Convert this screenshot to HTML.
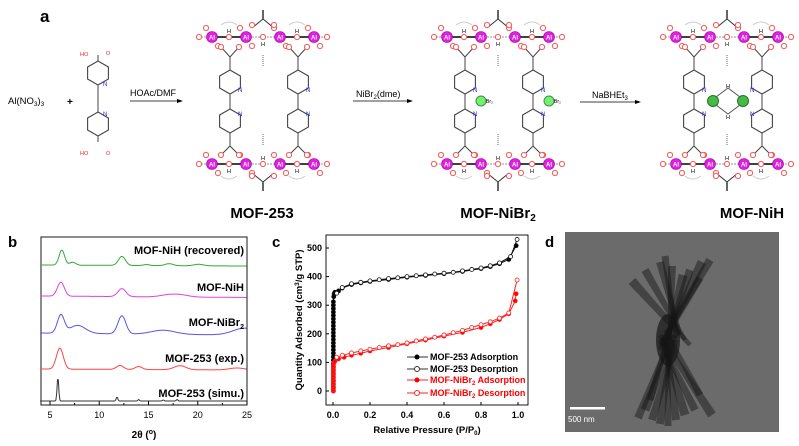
<!DOCTYPE html>
<html><head><meta charset="utf-8"><style>
body{margin:0;background:#fff;}
svg{display:block;font-family:"Liberation Sans",Arial,sans-serif;}
</style></head><body>
<svg id="s" width="799" height="446" viewBox="0 0 799 446" xmlns="http://www.w3.org/2000/svg">
<defs>
<g id="al"><circle r="5.5" fill="#e020e0" stroke="#a000a0" stroke-width="0.6"/><text x="0" y="2.3" font-size="6" fill="#fff" text-anchor="middle" font-weight="bold">Al</text></g>
<g id="o"><circle r="2.6" fill="#fff" stroke="#f55" stroke-width="1"/></g>
</defs>
<text x="40" y="22" font-size="17" font-weight="bold">a</text>
<text x="8" y="104" font-size="9.5">Al(NO<tspan font-size="6.5" dy="2">3</tspan><tspan dy="-2">)</tspan><tspan font-size="6.5" dy="2">3</tspan></text>
<text x="67" y="105" font-size="10" font-weight="bold">+</text>
<text x="130" y="96" font-size="9">HOAc/DMF</text>
<line x1="130" y1="101" x2="181" y2="101" stroke="#000" stroke-width="0.8"/><polygon points="183,101 177,99 177,103" fill="#000"/>
<text x="356" y="97" font-size="9">NiBr<tspan font-size="6" dy="2">2</tspan><tspan dy="-2">(dme)</tspan></text>
<line x1="353" y1="101" x2="410" y2="101" stroke="#000" stroke-width="0.8"/><polygon points="413,101 407,99 407,103" fill="#000"/>
<text x="592" y="98" font-size="9">NaBHEt<tspan font-size="6" dy="2">3</tspan></text>
<line x1="580" y1="102" x2="638" y2="102" stroke="#000" stroke-width="0.8"/><polygon points="641,102 635,100 635,104" fill="#000"/>
<text x="262" y="218" font-size="15" font-weight="bold" text-anchor="middle">MOF-253</text>
<text x="498" y="218" font-size="15" font-weight="bold" text-anchor="middle">MOF-NiBr<tspan font-size="10" dy="3">2</tspan></text>
<text x="752" y="218" font-size="15" font-weight="bold" text-anchor="middle">MOF-NiH</text>
<g id="lig"></g>
<g id="fw"></g>
<text x="8" y="247" font-size="15" font-weight="bold">b</text>
<rect x="41" y="237" width="206" height="168" fill="none" stroke="#000" stroke-width="0.9"/>
<g id="bt"></g>
<g font-size="11" font-weight="bold" text-anchor="end">
<text x="244" y="254">MOF-NiH (recovered)</text>
<text x="244" y="291">MOF-NiH</text>
<text x="244" y="326">MOF-NiBr<tspan font-size="7" dy="3">2</tspan></text>
<text x="244" y="362">MOF-253 (exp.)</text>
<text x="244" y="397">MOF-253 (simu.)</text>
</g>
<text x="144" y="438" font-size="10" font-weight="bold" text-anchor="middle">2θ (<tspan font-size="7" dy="-4">o</tspan><tspan dy="4">)</tspan></text>
<text x="272" y="247" font-size="15" font-weight="bold">c</text>
<rect x="326" y="235" width="202" height="170" fill="none" stroke="#000" stroke-width="0.9"/>
<g id="ct"></g>
<text transform="translate(302,320) rotate(-90)" font-size="9.5" font-weight="bold" text-anchor="middle">Quantity Adsorbed (cm<tspan font-size="6.5" dy="-3">3</tspan><tspan dy="3">/g STP)</tspan></text>
<text x="427" y="433" font-size="9.5" font-weight="bold" text-anchor="middle">Relative Pressure (P/P<tspan font-size="6" dy="2">0</tspan><tspan dy="-2">)</tspan></text>
<g id="cs"></g>
<g font-size="9" font-weight="bold">
<line x1="407" y1="357" x2="428" y2="357" stroke="#333"/><circle cx="417" cy="357" r="2.5" fill="#000"/><text x="430" y="360">MOF-253 Adsorption</text>
<line x1="407" y1="369" x2="428" y2="369" stroke="#333"/><circle cx="417" cy="369" r="2.5" fill="#fff" stroke="#333"/><text x="430" y="372">MOF-253 Desorption</text>
<line x1="407" y1="380" x2="428" y2="380" stroke="#f22"/><circle cx="417" cy="380" r="2.5" fill="#f00"/><text x="430" y="383" fill="#f00">MOF-NiBr<tspan font-size="6" dy="2">2</tspan><tspan dy="-2"> Adsorption</tspan></text>
<line x1="407" y1="393" x2="428" y2="393" stroke="#f22"/><circle cx="417" cy="393" r="2.5" fill="#fff" stroke="#f22"/><text x="430" y="396" fill="#f00">MOF-NiBr<tspan font-size="6" dy="2">2</tspan><tspan dy="-2"> Desorption</tspan></text>
</g>
<text x="545" y="247" font-size="15" font-weight="bold">d</text>
<rect x="565" y="232" width="214" height="200" fill="#6b6b6b"/>
<g id="rods" fill="#151515" fill-opacity="0.45"></g>
<rect x="570" y="407" width="35" height="2.5" fill="#fff"/>
<text x="568" y="422" font-size="8" fill="#fff">500 nm</text>
</svg>
<script>
const NS="http://www.w3.org/2000/svg";
function el(p,t,a,txt){const e=document.createElementNS(NS,t);for(const k in a)e.setAttribute(k,a[k]);if(txt)e.textContent=txt;document.getElementById(p).appendChild(e);return e;}
function ln(p,x1,y1,x2,y2,c,w,d){const a={x1,y1,x2,y2,stroke:c||"#000","stroke-width":w||1};if(d)a["stroke-dasharray"]=d;el(p,"line",a);}
function hex(p,cx,cy,r,c){let pts=[];for(let i=0;i<6;i++){const a=Math.PI/6+i*Math.PI/3;pts.push((cx+r*Math.cos(a)).toFixed(1)+","+(cy+r*Math.sin(a)).toFixed(1));}el(p,"polygon",{points:pts.join(" "),fill:"none",stroke:c||"#444","stroke-width":1.1});}
function use(p,id,x,y){el(p,"use",{href:"#"+id,x,y});}
hex("lig",98,73,12);hex("lig",98,124,12);ln("lig",98,85,98,112,"#444");ln("lig",98,61,98,55,"#444");ln("lig",98,136,98,142,"#444");
el("lig","text",{x:103,y:86,"font-size":6,fill:"#22f"},"N");el("lig","text",{x:103,y:116,"font-size":6,fill:"#22f"},"N");
el("lig","text",{x:80,y:56,"font-size":5.5,fill:"#f22"},"HO");el("lig","text",{x:106,y:55,"font-size":5.5,fill:"#f22"},"O");
el("lig","text",{x:80,y:155,"font-size":5.5,fill:"#f22"},"HO");el("lig","text",{x:106,y:155,"font-size":5.5,fill:"#f22"},"O");
function fw(ox,type){
 const X=[0,34,68,102].map(v=>v+ox);
 [37,164].forEach((y,ri)=>{
  [17,85].forEach(dx=>{const gy=ri?y+12:y-12;el("fw","path",{d:`M${ox+dx-8} ${gy} Q${ox+dx} ${gy+(ri?6:-6)} ${ox+dx+8} ${gy}`,fill:"none",stroke:"#ccc","stroke-width":1});});
  ln("fw",X[0]-14,y,X[3]+14,y,"#999",1,"2,1");
  ln("fw",X[0],y,X[1],y,"#000",1.4);ln("fw",X[2],y,X[3],y,"#000",1.4);
  X.forEach(x=>{use("fw","o",x-6,y-9);use("fw","o",x+6,y+9);});
  [X[0]-13,X[3]+13,(X[0]+X[1])/2,(X[1]+X[2])/2,(X[2]+X[3])/2].forEach(x=>use("fw","o",x,y));
  el("fw","text",{x:(X[0]+X[1])/2-2,y:ri?y+9:y-4,"font-size":5.5},"H");
  el("fw","text",{x:(X[2]+X[3])/2-2,y:ri?y+9:y-4,"font-size":5.5},"H");
  el("fw","text",{x:(X[1]+X[2])/2-2,y:ri?y-4:y+9,"font-size":5.5},"H");
  const ay=ri?y+18:y-18, cx=(X[1]+X[2])/2;
  ln("fw",cx,ay,cx,ri?ay+9:ay-9,"#000",1.2);
  el("fw","path",{d:`M${X[1]+6} ${ri?y+9:y-9} L${cx} ${ay} L${X[2]-6} ${ri?y+9:y-9}`,fill:"none",stroke:"#333","stroke-width":1});
  X.forEach(x=>use("fw","al",x,y));
  use("fw","o",X[1]+6,ri?y+12:y-12);use("fw","o",X[2]-6,ri?y+12:y-12);
 });
 ln("fw",(X[1]+X[2])/2,55,(X[1]+X[2])/2,66,"#666",1,"1,1");ln("fw",(X[1]+X[2])/2,134,(X[1]+X[2])/2,145,"#666",1,"1,1");
 [ox+18,ox+86].forEach((cx,k)=>{
  el("fw","path",{d:`M${cx-9} 47 L${cx} 57 L${cx+9} 47`,fill:"none",stroke:"#444","stroke-width":1});
  el("fw","path",{d:`M${cx-9} 155 L${cx} 146 L${cx+9} 155`,fill:"none",stroke:"#444","stroke-width":1});
  use("fw","o",cx-9,47);use("fw","o",cx+9,47);use("fw","o",cx-9,155);use("fw","o",cx+9,155);
  ln("fw",cx,57,cx,70,"#444");ln("fw",cx,133,cx,146,"#444");
  hex("fw",cx,82,12);hex("fw",cx,121,12);ln("fw",cx,94,cx,109,"#444");
  const nx=(type==2&&k==1)?cx-10:cx+10;
  el("fw","text",{x:nx-2,y:92,"font-size":6,fill:"#22f"},"N");el("fw","text",{x:nx-2,y:116,"font-size":6,fill:"#22f"},"N");
  if(type==1){el("fw","circle",{cx:cx+16,cy:101,r:5,fill:"#7e7",stroke:"#393"});el("fw","text",{x:cx+21,y:103,"font-size":5},"Br₂");}
 });
 if(type==2){
  el("fw","circle",{cx:ox+37,cy:101,r:5.5,fill:"#4b4",stroke:"#272"});el("fw","circle",{cx:ox+67,cy:101,r:5.5,fill:"#4b4",stroke:"#272"});
  el("fw","path",{d:`M${ox+40} 97 L${ox+52} 88 L${ox+64} 97 M${ox+40} 105 L${ox+52} 114 L${ox+64} 105`,fill:"none",stroke:"#555"});
  el("fw","text",{x:ox+50,y:88,"font-size":5.5},"H");el("fw","text",{x:ox+50,y:119,"font-size":5.5},"H");
 }
}
fw(212,0);fw(447,1);fw(676,2);
const bx=t=>50+(t-5)*9.85;
for(let t=5;t<=25;t+=5){ln("bt",bx(t),405,bx(t),401);el("bt","text",{x:bx(t),y:418,"font-size":9,"text-anchor":"middle"},""+t);}
for(let t=7.5;t<25;t+=5)ln("bt",bx(t),405,bx(t),403);
function spec(base,peaks,col,slope){let d="";for(let t=4;t<=25;t+=0.08){let y=base+(slope||0)*(t-4);peaks.forEach(([c,h,w])=>{y-=h*Math.exp(-((t-c)*(t-c))/(2*w*w));});d+=(d?"L":"M")+bx(t).toFixed(1)+" "+y.toFixed(1);}el("bt","path",{d,fill:"none",stroke:col,"stroke-width":1});}
spec(265,[[6.2,15,0.28],[7.3,3,0.3],[12.3,9,0.35],[14.8,1,0.3],[17.1,2,0.4],[20.1,1.5,0.5]],"#3a3",0.05);
spec(296,[[6.1,14,0.35],[12.3,8,0.4],[17,2,0.8],[18.3,2,0.8]],"#e040e0",0.07);
spec(333,[[6.1,18,0.35],[7.8,8,0.8],[12.3,18,0.4],[16.5,4,1.2],[24.8,7,1.2]],"#55e",0.1);
spec(369,[[6.0,21,0.35],[12.1,4,0.35],[14,3,0.35],[18.2,4,0.6],[24,2,0.8]],"#f44",0.05);
spec(401,[[5.8,24,0.08],[11.8,4,0.08],[14,1.5,0.08],[16.5,1,0.08],[17.9,1.5,0.08]],"#333",0);
const cx=p=>333+p*185, cy=q=>391-q*0.286;
for(let q=0;q<=500;q+=100){ln("ct",326,cy(q),329,cy(q));el("ct","text",{x:322,y:cy(q)+3,"font-size":9,"font-weight":"bold","text-anchor":"end"},""+q);}
for(let p=0;p<=1.001;p+=0.2){ln("ct",cx(p),405,cx(p),402);el("ct","text",{x:cx(p),y:418,"font-size":9,"font-weight":"bold","text-anchor":"middle"},p.toFixed(1));}
function iso(pts,col,fill){let d="";pts.forEach(([p,q],i)=>d+=(i?"L":"M")+cx(p).toFixed(1)+" "+cy(q).toFixed(1));el("cs","path",{d,fill:"none",stroke:col,"stroke-width":1});pts.forEach(([p,q])=>el("cs","circle",{cx:cx(p),cy:cy(q),r:2,fill:fill,stroke:col,"stroke-width":0.8}));}
let bA=[];for(let q=0;q<=320;q+=12)bA.push([0.002,q]);bA=bA.concat([[0.004,330],[0.006,340],[0.01,345],[0.03,350],[0.05,360],[0.1,372],[0.15,378],[0.2,383],[0.3,390],[0.4,398],[0.5,404],[0.6,410],[0.7,418],[0.8,428],[0.85,435],[0.9,445],[0.95,460],[0.99,508]]);
iso(bA,"#111","#000");
iso([[0.995,530],[0.96,470],[0.9,448],[0.85,438],[0.8,430],[0.75,425],[0.7,420],[0.65,415],[0.6,412],[0.55,409],[0.5,406],[0.45,403],[0.4,400],[0.35,396],[0.3,393],[0.25,389],[0.2,385],[0.15,380],[0.1,375],[0.05,362],[0.02,342]],"#111","#fff");
let rA=[];for(let q=0;q<=90;q+=6)rA.push([0.002,q]);rA=rA.concat([[0.005,98],[0.01,104],[0.03,112],[0.06,118],[0.1,125],[0.15,132],[0.2,140],[0.3,152],[0.4,165],[0.5,178],[0.6,192],[0.7,205],[0.8,222],[0.85,235],[0.9,250],[0.95,270],[0.985,315],[0.99,340]]);
iso(rA,"#f22","#f00");
iso([[0.995,388],[0.95,273],[0.9,255],[0.85,242],[0.8,232],[0.75,222],[0.7,212],[0.65,204],[0.6,196],[0.55,188],[0.5,182],[0.45,175],[0.4,168],[0.35,162],[0.3,158],[0.25,152],[0.2,146],[0.15,140],[0.1,133],[0.05,125],[0.02,118]],"#f22","#fff");
const R=[[632,281,690,345,9],[645,270,685,340,8],[660,262,680,335,8],[665,256,676,338,7],[672,266,670,340,8],[683,275,668,340,9],[690,270,665,345,8],[702,262,660,350,9],[710,260,660,345,8],[700,278,662,345,7],
[638,418,672,335,8],[645,410,675,335,9],[652,420,676,340,8],[660,424,672,340,8],[668,426,668,340,7],[676,420,665,335,8],[685,415,662,338,9],[695,410,660,340,8],[712,415,660,335,9],[650,400,670,330,7],[700,395,665,330,7]];
R.forEach(([x1,y1,x2,y2,w])=>{const dx=x2-x1,dy=y2-y1,L=Math.hypot(dx,dy),ox=-dy/L*w/2,oy=dx/L*w/2;el("rods","polygon",{points:`${x1+ox},${y1+oy} ${x1-ox},${y1-oy} ${x2-ox*0.5},${y2-oy*0.5} ${x2+ox*0.5},${y2+oy*0.5}`});});
el("rods","ellipse",{cx:668,cy:340,rx:12,ry:26,"fill-opacity":0.7});
</script>
</body></html>
